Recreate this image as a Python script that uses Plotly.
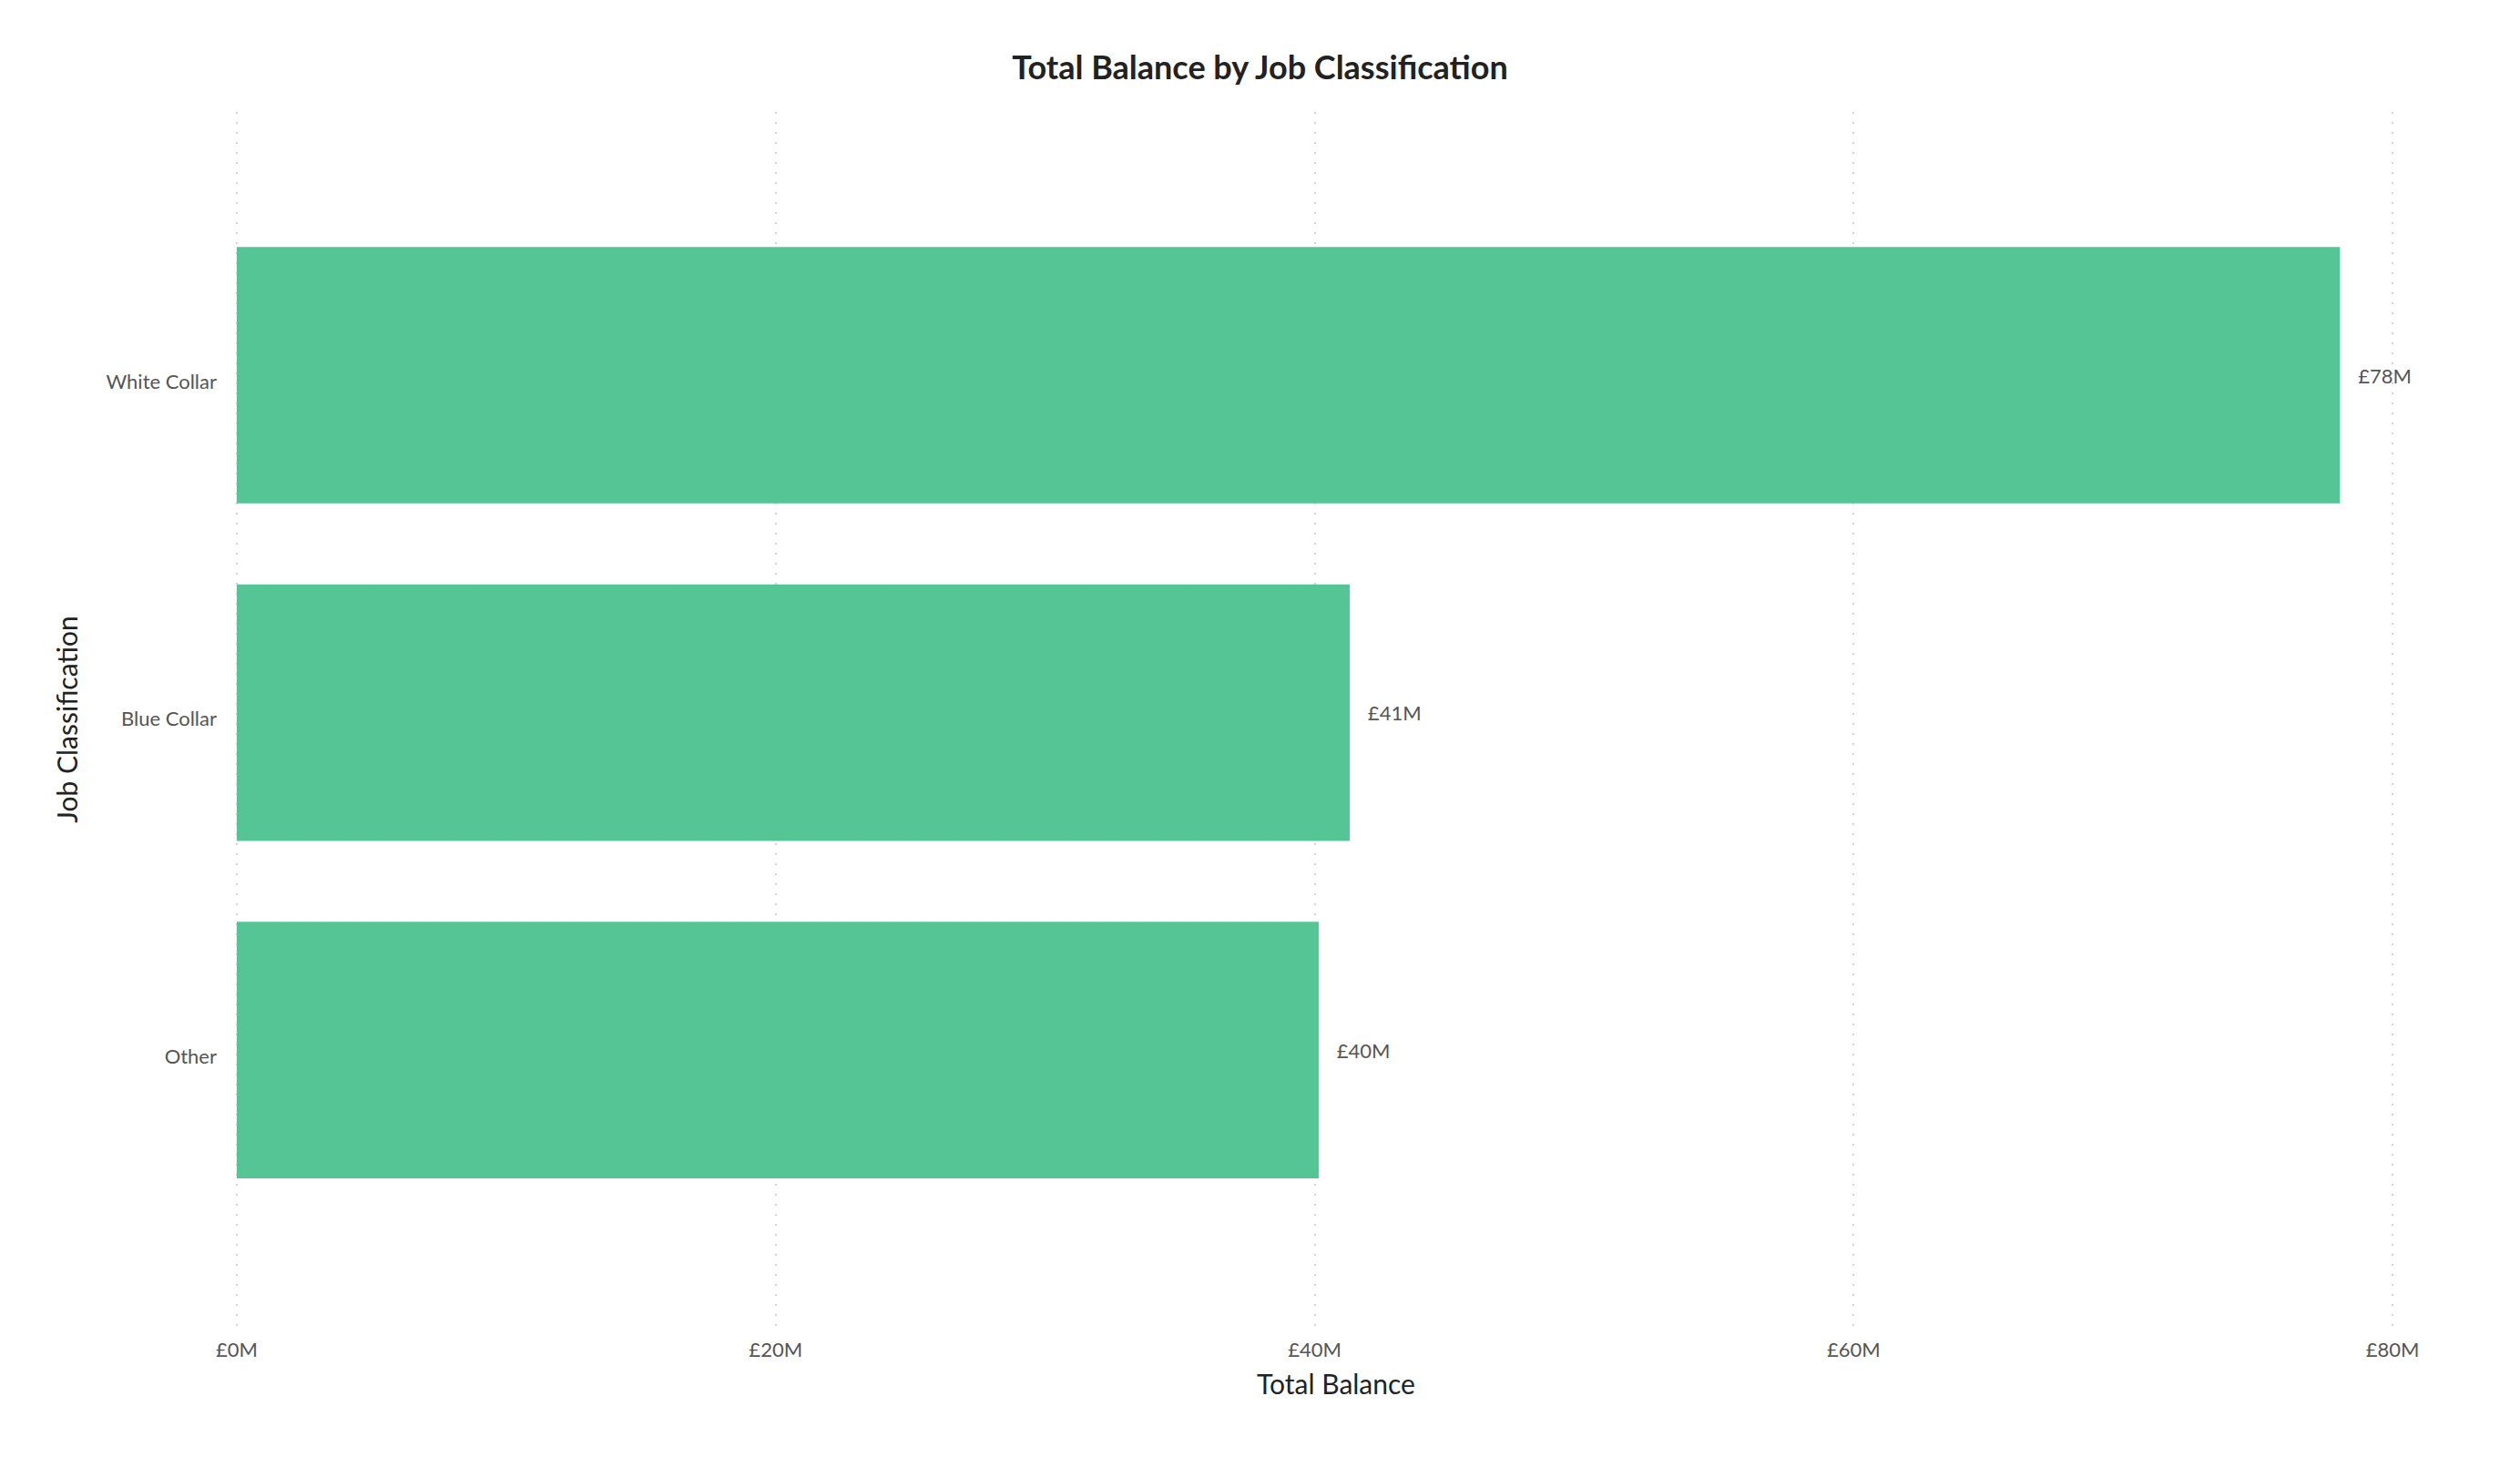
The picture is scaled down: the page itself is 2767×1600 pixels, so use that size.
import plotly.graph_objects as go

categories = ["Other", "Blue Collar", "White Collar"]
balances_m = [40.15, 41.3, 78.05]
labels = ["£40M", "£41M", "£78M"]
tick_vals = [0, 20, 40, 60, 80]
tick_text = ["£0M", "£20M", "£40M", "£60M", "£80M"]

FONT = "Lato, 'Open Sans', sans-serif"
PAD = "\u00a0\u00a0\u00a0"

fig = go.Figure(
    go.Bar(
        x=balances_m,
        y=categories,
        orientation="h",
        marker=dict(color="#55C595", line=dict(width=0)),
        text=[PAD + t for t in labels],
        textposition="outside",
        textfont=dict(family=FONT, size=22, color="#555555"),
        cliponaxis=False,
    )
)

fig.update_layout(
    width=2767,
    height=1600,
    paper_bgcolor="white",
    plot_bgcolor="white",
    margin=dict(l=249, r=145, t=115, b=151),
    bargap=0.24,
    showlegend=False,
    title=dict(
        text="<b>Total Balance by Job Classification</b>",
        x=(1383.5 - 8) / 2767,
        xanchor="center",
        y=1 - 66 / 1600,
        yanchor="middle",
        font=dict(family=FONT, size=36, color="#222222"),
    ),
    font=dict(family=FONT, color="#555555"),
    annotations=[
        dict(
            text="Total Balance",
            xref="paper", yref="paper",
            x=(1466.5 - 8 - 249) / (2767 - 249 - 145), y=0,
            xanchor="center", yanchor="middle",
            yshift=-62,
            showarrow=False,
            font=dict(family=FONT, size=30, color="#222222"),
        )
    ],
)

fig.update_xaxes(
    range=[-0.1, 80.1],
    tickvals=tick_vals,
    ticktext=tick_text,
    tickfont=dict(family=FONT, size=22, color="#555555"),
    showgrid=True,
    gridcolor="#d4d4d4",
    griddash="2px,9px",
    gridwidth=2,
    zeroline=False,
    showline=False,
    ticks="",
    ticklabelstandoff=10,
)

fig.update_yaxes(
    range=[-0.82, 2.78],
    tickfont=dict(family=FONT, size=22, color="#555555"),
    showgrid=False,
    zeroline=False,
    showline=False,
    ticks="",
    ticklabelstandoff=18,
    ticklabelshift=7,
    title=dict(text="Job Classification", font=dict(family=FONT, size=30, color="#222222"), standoff=21),
)

fig.write_html("out.html")
